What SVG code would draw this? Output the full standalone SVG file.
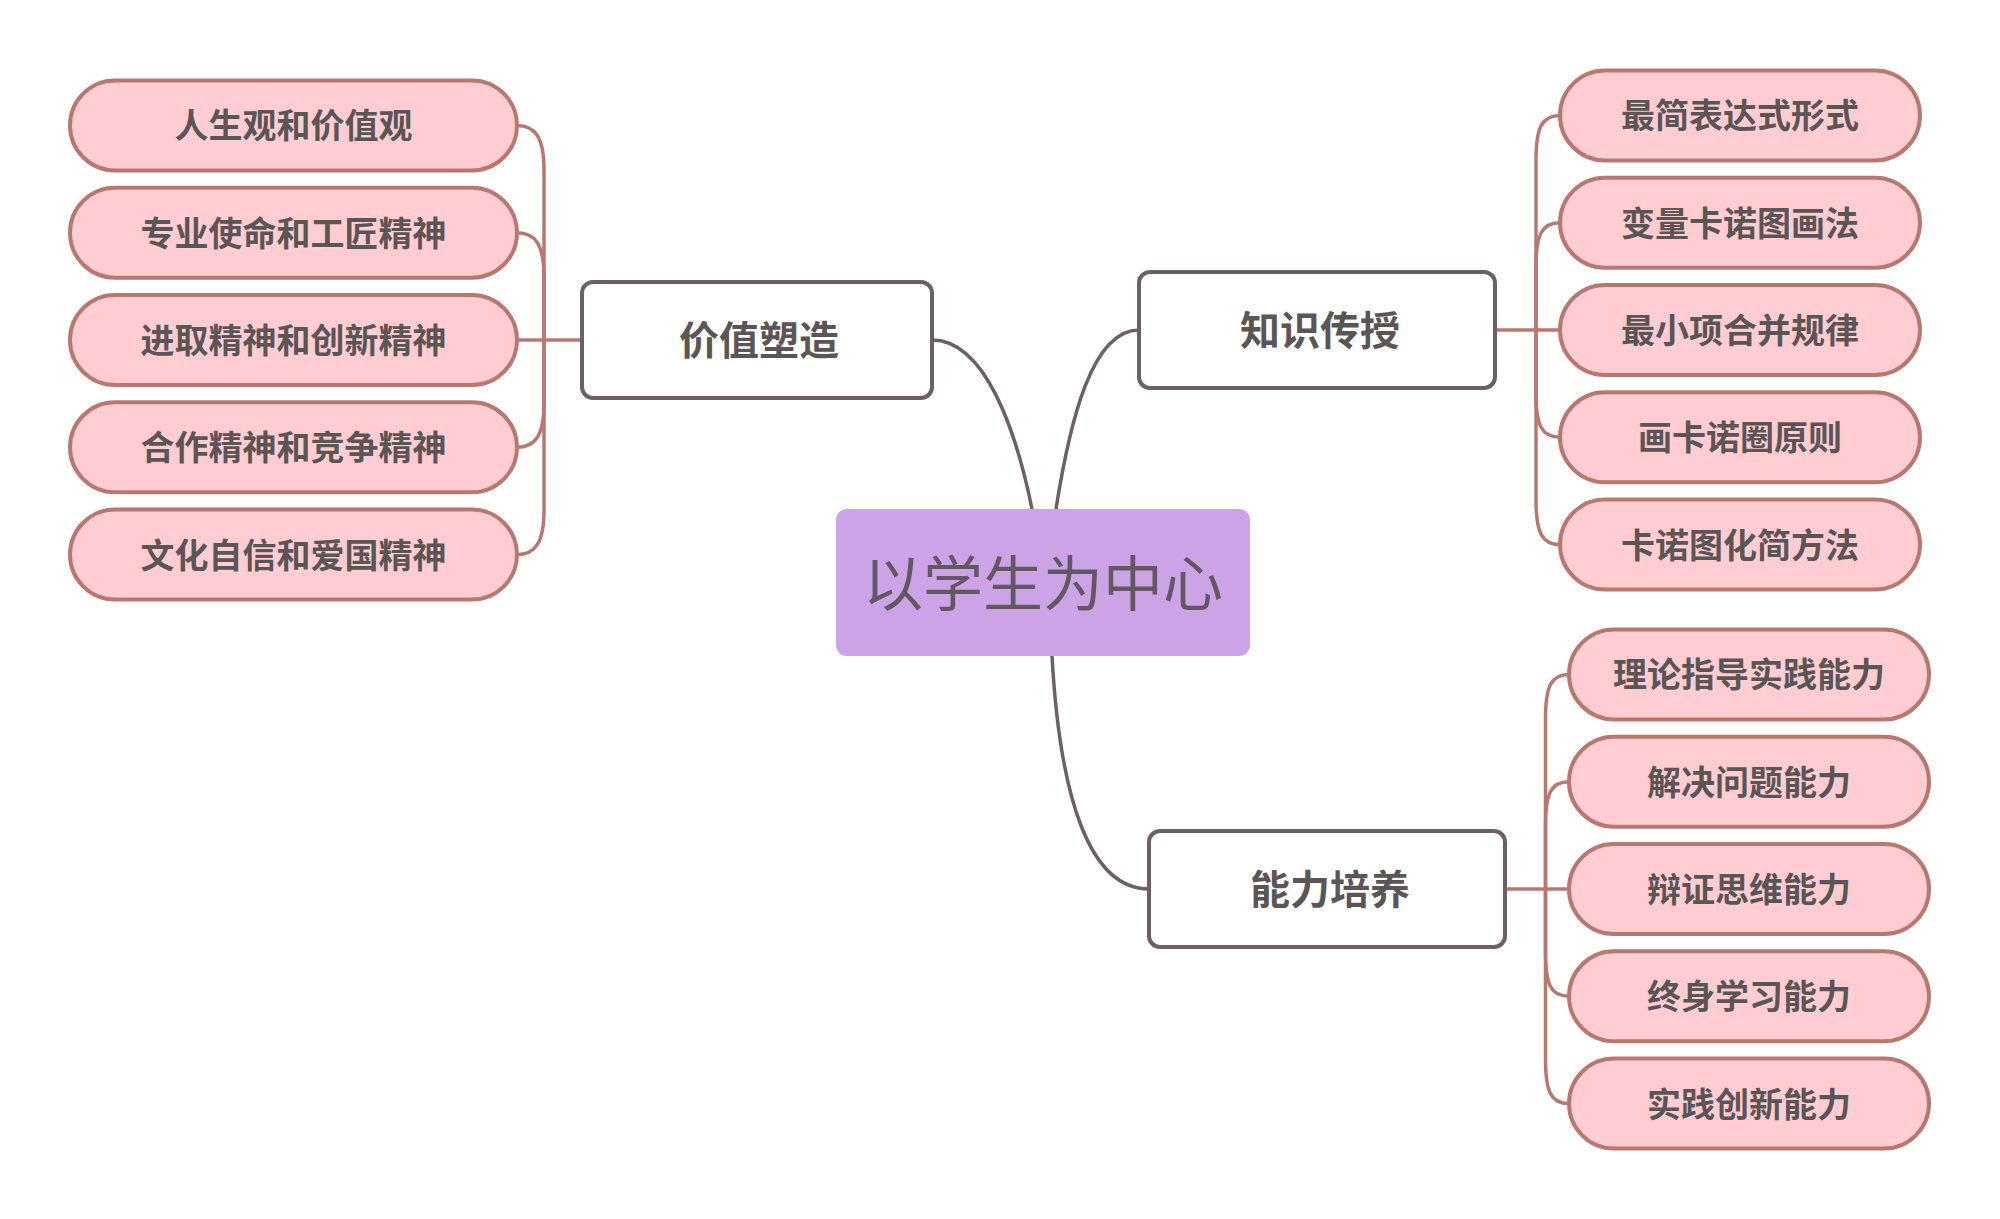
<svg xmlns="http://www.w3.org/2000/svg" width="2000" height="1219" viewBox="0 0 2000 1219">
<style>
.pill{fill:#ffcdd2;stroke:#b87870;stroke-width:4}
.box{fill:#ffffff;stroke:#6d5f66;stroke-width:4}
.root{fill:#cca3e6}
.pt{font-family:"Noto Sans CJK SC","Noto Sans",sans-serif;font-weight:bold;font-size:34px;fill:#5c5556;text-anchor:middle}
.bt{font-family:"Noto Sans CJK SC","Noto Sans",sans-serif;font-weight:bold;font-size:40px;fill:#5c5556;text-anchor:middle}
.rt{font-family:"Noto Sans CJK SC","Noto Sans",sans-serif;font-size:60px;fill:#625862;text-anchor:middle}
.c1{fill:none;stroke:#6d5f66;stroke-width:3.5}
.c2{fill:none;stroke:#b87870;stroke-width:3.5}
</style>
<rect width="2000" height="1219" fill="#ffffff"/>
<g id="connectors">
<path class="c1" d="M932 340 C985 340 1016 430 1032 509"/>
<path class="c1" d="M1139 330 C1092 330 1070 420 1056 509"/>
<path class="c1" d="M1052 656 C1060 800 1090 889 1149 889"/>
<path class="c2" d="M517 125.4 C535 125.4 544 137 544 170 L544 340"/>
<path class="c2" d="M517 232.7 C535 232.7 544 244 544 277 L544 340"/>
<path class="c2" d="M517 340 L582 340"/>
<path class="c2" d="M517 447.3 C535 447.3 544 436 544 403 L544 340"/>
<path class="c2" d="M517 554.6 C535 554.6 544 543 544 510 L544 340"/>
<path class="c2" d="M1560 115.4 C1542 115.4 1536 127 1536 160 L1536 330"/>
<path class="c2" d="M1560 222.7 C1542 222.7 1536 234 1536 267 L1536 330"/>
<path class="c2" d="M1495 330 L1560 330"/>
<path class="c2" d="M1560 437.3 C1542 437.3 1536 426 1536 393 L1536 330"/>
<path class="c2" d="M1560 544.6 C1542 544.6 1536 533 1536 500 L1536 330"/>
<path class="c2" d="M1569 674.4 C1551 674.4 1545.5 686 1545.5 719 L1545.5 889"/>
<path class="c2" d="M1569 781.7 C1551 781.7 1545.5 793 1545.5 826 L1545.5 889"/>
<path class="c2" d="M1505 889 L1569 889"/>
<path class="c2" d="M1569 996.3 C1551 996.3 1545.5 985 1545.5 952 L1545.5 889"/>
<path class="c2" d="M1569 1103.6 C1551 1103.6 1545.5 1092 1545.5 1059 L1545.5 889"/>
</g>
<g id="root"><rect class="root" x="836" y="509" width="414" height="147" rx="11"/><text class="rt" x="1043" y="606">以学生为中心</text></g>
<g id="n-jiazhi"><rect class="box" x="582" y="282" width="350" height="116" rx="11"/><text class="bt" x="759" y="355">价值塑造</text></g>
<g id="n-zhishi"><rect class="box" x="1139" y="272" width="356" height="116" rx="11"/><text class="bt" x="1320" y="345">知识传授</text></g>
<g id="n-nengli"><rect class="box" x="1149" y="831" width="356" height="116" rx="11"/><text class="bt" x="1330" y="904">能力培养</text></g>
<g id="l1"><rect class="pill" x="70" y="80.4" width="447" height="90" rx="45"/><text class="pt" x="293.5" y="138.4">人生观和价值观</text></g>
<g id="l2"><rect class="pill" x="70" y="187.7" width="447" height="90" rx="45"/><text class="pt" x="293.5" y="245.7">专业使命和工匠精神</text></g>
<g id="l3"><rect class="pill" x="70" y="295" width="447" height="90" rx="45"/><text class="pt" x="293.5" y="353">进取精神和创新精神</text></g>
<g id="l4"><rect class="pill" x="70" y="402.3" width="447" height="90" rx="45"/><text class="pt" x="293.5" y="460.3">合作精神和竞争精神</text></g>
<g id="l5"><rect class="pill" x="70" y="509.6" width="447" height="90" rx="45"/><text class="pt" x="293.5" y="567.6">文化自信和爱国精神</text></g>
<g id="k1"><rect class="pill" x="1560" y="70.4" width="360" height="90" rx="45"/><text class="pt" x="1740" y="128.4">最简表达式形式</text></g>
<g id="k2"><rect class="pill" x="1560" y="177.7" width="360" height="90" rx="45"/><text class="pt" x="1740" y="235.7">变量卡诺图画法</text></g>
<g id="k3"><rect class="pill" x="1560" y="285" width="360" height="90" rx="45"/><text class="pt" x="1740" y="343">最小项合并规律</text></g>
<g id="k4"><rect class="pill" x="1560" y="392.3" width="360" height="90" rx="45"/><text class="pt" x="1740" y="450.3">画卡诺圈原则</text></g>
<g id="k5"><rect class="pill" x="1560" y="499.6" width="360" height="90" rx="45"/><text class="pt" x="1740" y="557.6">卡诺图化简方法</text></g>
<g id="a1"><rect class="pill" x="1569" y="629.4" width="360" height="90" rx="45"/><text class="pt" x="1749" y="687.4">理论指导实践能力</text></g>
<g id="a2"><rect class="pill" x="1569" y="736.7" width="360" height="90" rx="45"/><text class="pt" x="1749" y="794.7">解决问题能力</text></g>
<g id="a3"><rect class="pill" x="1569" y="844" width="360" height="90" rx="45"/><text class="pt" x="1749" y="902">辩证思维能力</text></g>
<g id="a4"><rect class="pill" x="1569" y="951.3" width="360" height="90" rx="45"/><text class="pt" x="1749" y="1009.3">终身学习能力</text></g>
<g id="a5"><rect class="pill" x="1569" y="1058.6" width="360" height="90" rx="45"/><text class="pt" x="1749" y="1116.6">实践创新能力</text></g>
</svg>
